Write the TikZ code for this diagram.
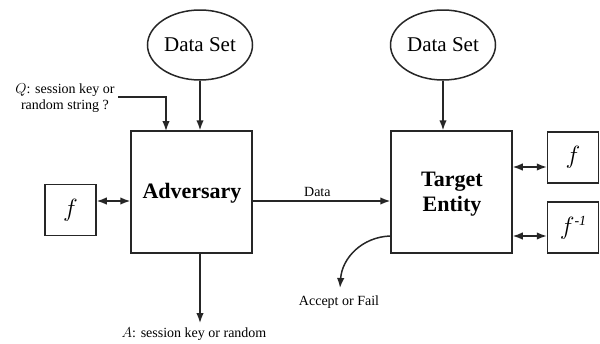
\documentclass[tikz,border=0pt]{standalone}
\usepackage{fontspec}
\setmainfont{Liberation Serif}
\usetikzlibrary{arrows.meta,shapes.geometric}
\begin{document}
\begin{tikzpicture}[x=1pt,y=-1pt,
  line/.style={line width=1.5pt, draw=black!85},
  tip/.tip={Latex[length=10pt,width=7.5pt]},
  arr/.style={line, -tip},
  darr/.style={line, tip-tip},
  bigbox/.style={line, draw, minimum width=121pt, minimum height=122pt, inner sep=0pt},
  fbox/.style={line, draw, minimum width=51pt, minimum height=51pt, inner sep=0pt, font=\fontsize{26}{28}\selectfont},
  dset/.style={line, draw, ellipse, minimum width=105pt, minimum height=70pt, inner sep=0pt, font=\fontsize{21}{24}\selectfont},
  small/.style={font=\fontsize{14}{16}\selectfont, inner sep=0pt}
]
\useasboundingbox (0,0) rectangle (600,343);

\node[dset] (ds1) at (200,45) {Data Set};
\node[dset] (ds2) at (443,45) {Data Set};
\node[bigbox] (adv) at (191.5,192) {};
\node[font=\fontsize{22}{24}\selectfont\bfseries] (advt) at (192,193) {Adversary};
\node[bigbox] (tgt) at (451.5,192) {};
\node[font=\fontsize{22}{26}\selectfont\bfseries, align=center] (tgtt) at (452,194) {Target\\[-1pt]Entity};
\node[fbox] (fl) at (70.5,210) {$f$};
\node[fbox] (fr1) at (573,157.5) {$f$};
\node[fbox] (fr2) at (573,227.5) {$f$\raisebox{9pt}{\fontsize{14}{15}\selectfont\itshape -1}};

\node[small, align=center] (q) at (65,98) {$Q$: session key or\\random string ?};
\coordinate (qs) at (118,97);
\draw[arr] (qs) -| (166,131);

\draw[arr] (ds1.south) -- (adv.north -| ds1.south);
\draw[arr] (ds2.south) -- (tgt.north -| ds2.south);

\draw[darr] (fl.east |- 0,201) -- (adv.west |- 0,201);
\draw[arr] (adv.east |- 0,201) -- node[small, above=4pt, pos=0.47] (dl) {Data} (tgt.west |- 0,201);
\draw[darr] (tgt.east |- 0,167) -- (fr1.west |- 0,167);
\draw[darr] (tgt.east |- 0,236) -- (fr2.west |- 0,236);

\node[small] (al) at (194,334) {$A$: session key or random};
\draw[arr] (adv.south -| 200,0) -- (200,323);

\node[small] (acc) at (339,302) {Accept or Fail};
\draw[arr] (tgt.west |- 0,236) .. controls (362,237) and (342,258) .. (340,288);
\end{tikzpicture}
\end{document}
